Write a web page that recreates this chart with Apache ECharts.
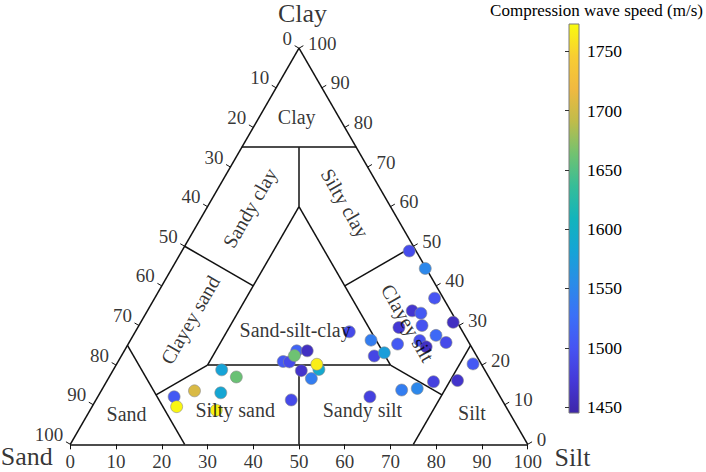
<!DOCTYPE html>
<html><head><meta charset="utf-8">
<script src="https://cdn.jsdelivr.net/npm/echarts@6/dist/echarts.min.js"></script>
<style>html,body{margin:0;padding:0;background:#fff}#c{width:706px;height:472px}</style>
</head><body><div id="c"></div>
<script>
// ---- data: sample composition (%) and compression wave speed (m/s) ----
const sand  = [57.5,55.2,66.0,60.5,71.3,72.0,63.9,46.2,43.0,41.7,38.7,39.8,36.4,36.2,36.0,40.2,39.0,24.8,1.5,0.2,2.0,8.4,6.8,0.9,13.4,8.1,21.1,15.8,6.4,10.5,9.9,5.0,22.4,19.8,1.8,12.7,7.3,20.7,17.1,28.5];
const silt  = [23.7,27.8,20.4,26.4,16.7,18.5,27.6,42.7,36.1,37.5,37.7,37.8,40.0,44.9,43.8,41.2,44.4,46.8,49.7,55.4,61.2,57.9,60.1,68.3,57.1,61.9,52.6,58.9,66.2,63.3,65.5,69.3,55.3,57.1,77.9,71.5,76.6,65.6,68.8,59.5];
const clay  = [18.8,17.0,13.5,13.0,12.0,9.5,8.6,11.2,20.9,20.8,23.6,22.4,23.6,18.9,20.2,18.6,16.6,28.4,48.8,44.4,36.9,33.7,33.1,30.8,29.5,30.0,26.3,25.3,27.5,26.2,24.6,25.7,22.3,23.1,20.3,15.8,16.1,13.7,14.1,12.0];
const speed = [1580,1660,1705,1585,1505,1770,1768,1490,1505,1490,1515,1662,1460,1590,1765,1465,1540,1490,1492,1550,1500,1468,1505,1460,1470,1498,1540,1505,1520,1495,1460,1490,1485,1575,1505,1480,1465,1540,1550,1480];
const tickValues = [0,10,20,30,40,50,60,70,80,90,100];
const colorbarTicks = [1450,1500,1550,1600,1650,1700,1750];
const speedMin = 1445, speedMax = 1773;
const cornerNames = ['Sand','Silt','Clay'];
const regionNames = ['Clay','Sandy clay','Silty clay','Clayey sand','Sand-silt-clay','Clayey silt','Sand','Silty sand','Sandy silt','Silt'];
// Shepard classification boundaries, as (sand, silt, clay) pairs
const boundaries = [
  [[100,0,0],[0,100,0]],[[0,100,0],[0,0,100]],[[0,0,100],[100,0,0]],
  [[25,0,75],[0,25,75]],[[12.5,12.5,75],[20,20,60]],
  [[20,20,60],[60,20,20]],[[60,20,20],[20,60,20]],[[20,60,20],[20,20,60]],
  [[50,0,50],[40,20,40]],[[0,50,50],[20,40,40]],
  [[75,0,25],[75,25,0]],[[75,12.5,12.5],[60,20,20]],
  [[0,75,25],[25,75,0]],[[12.5,75,12.5],[20,60,20]],
  [[50,50,0],[40,40,20]]
];
const parula = ['#3e26a8','#4539d8','#4654f2','#3b70f8','#2a8ce8','#15a4d6','#12b4bc','#36bd98','#72c270','#c0bc4a','#f0b940','#f8cd32','#f9fb0e'];

// ---- helpers ----
const S3 = Math.sqrt(3)/2;
function T(p){ return [p[1] + p[2]/2, p[2]*S3]; }
const FONT = "'Liberation Serif','Times New Roman',serif";

const chart = echarts.init(document.getElementById('c'), null, {renderer:'svg'});

const tickLen = 1.1;
const tickSegs = [];
const leftLabels = [], rightLabels = [], bottomLabels = [];
tickValues.forEach(v => {
  const pl = T([v,0,100-v]);
  tickSegs.push({coords:[pl,[pl[0]-0.866*tickLen, pl[1]+0.5*tickLen]]});
  leftLabels.push({value:pl, name:String(v)});
  const pr = T([0,100-v,v]);
  tickSegs.push({coords:[pr,[pr[0]+0.866*tickLen, pr[1]+0.5*tickLen]]});
  rightLabels.push({value:pr, name:String(v)});
  const pb = T([100-v,v,0]);
  tickSegs.push({coords:[pb,[pb[0], pb[1]-tickLen]]});
  bottomLabels.push({value:pb, name:String(v)});
});

const regionAnchors = [[9.2,8.2,82.6],[30.9,9.4,59.7],[9.5,29.6,60.9],[58.1,10.5,31.4],[36.4,34.7,28.9],[10.9,58.5,30.6],[83.9,8.5,7.6],[59.6,31.7,8.7],[31.8,59.5,8.7],[8.2,83.8,8.0]];
const regionRot = [0,60,-60,60,0,-60,0,0,0,0];
const regionData = regionNames.map((n,i)=>({value:T(regionAnchors[i]), name:n, label:{rotate:regionRot[i]}}));

const cornerAnchors = [[100,0,0],[0,100,0],[0,0,100]];
const cornerOffsets = [[-43.6,12.5],[44.8,13.5],[3.5,-35]];
const cornerData = cornerNames.map((n,i)=>({value:T(cornerAnchors[i]), name:n, label:{offset:cornerOffsets[i]}}));

const points = sand.map((s,i)=>{ const c = T([s,silt[i],clay[i]]); return [c[0], c[1], speed[i]]; });

function labelSeries(data, lab){
  return {type:'scatter', xAxisIndex:0, yAxisIndex:0, symbolSize:0, silent:true, clip:false,
    itemStyle:{color:'transparent'}, data:data,
    label:Object.assign({show:true, position:'inside', formatter:'{b}', color:'#000', fontFamily:FONT}, lab),
    emphasis:{disabled:true}};
}

chart.setOption({
  animation:false,
  backgroundColor:'#fff',
  grid:[
    {left:70.3, top:48.2, width:457.4, height:396.1, show:false},
    {left:569, top:24, width:10, height:389, show:true, borderColor:'#7a7a7a', borderWidth:1,
     backgroundColor:{type:'linear', x:0, y:1, x2:0, y2:0,
       colorStops: parula.map((c,i)=>({offset:i/(parula.length-1), color:c}))}}
  ],
  xAxis:[
    {type:'value', gridIndex:0, min:0, max:100, show:false},
    {type:'value', gridIndex:1, min:0, max:1, show:false}
  ],
  yAxis:[
    {type:'value', gridIndex:0, min:0, max:100*S3, show:false},
    {type:'value', gridIndex:1, min:speedMin, max:speedMax, position:'right',
     splitLine:{show:false}, axisLine:{show:false},
     axisTick:{show:true, inside:true, length:4, lineStyle:{color:'#333'}, customValues:colorbarTicks},
     axisLabel:{show:true, margin:8, color:'#000', fontFamily:FONT, fontSize:17.5, customValues:colorbarTicks,
       formatter:v=>String(v)}}
  ],
  visualMap:{type:'continuous', show:false, min:speedMin, max:speedMax, dimension:2, seriesIndex:7,
    inRange:{color:parula}},
  graphic:[{type:'text', right:3, top:2, style:{text:'Compression wave speed (m/s)', font:'17px '+FONT, fill:'#000'}}],
  series:[
    {type:'lines', coordinateSystem:'cartesian2d', xAxisIndex:0, yAxisIndex:0, silent:true, clip:false,
     lineStyle:{color:'#111', width:1.5, opacity:1}, data:boundaries.map(b=>({coords:[T(b[0]),T(b[1])]}))},
    {type:'lines', coordinateSystem:'cartesian2d', xAxisIndex:0, yAxisIndex:0, silent:true, clip:false,
     lineStyle:{color:'#111', width:1, opacity:1}, data:tickSegs},
    labelSeries(leftLabels, {align:'right', verticalAlign:'middle', offset:[-7,-10], fontSize:19}),
    labelSeries(rightLabels, {align:'left', verticalAlign:'middle', offset:[9,-5], fontSize:19}),
    labelSeries(bottomLabels, {align:'center', verticalAlign:'middle', offset:[0,17.5], fontSize:19}),
    labelSeries(regionData, {align:'center', verticalAlign:'middle', fontSize:20}),
    labelSeries(cornerData, {align:'center', verticalAlign:'middle', fontSize:26}),
    {type:'scatter', xAxisIndex:0, yAxisIndex:0, symbolSize:12, clip:false, data:points,
     itemStyle:{borderColor:'#8a8a8a', borderWidth:0.6, opacity:1}, emphasis:{disabled:true}}
  ]
});
</script></body></html>
